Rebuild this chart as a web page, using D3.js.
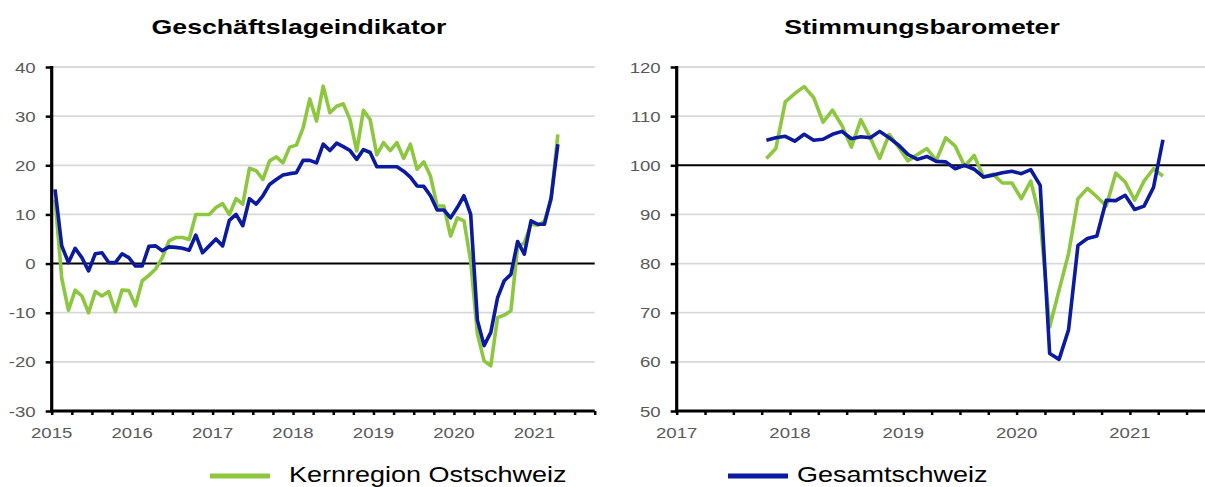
<!DOCTYPE html>
<html><head><meta charset="utf-8">
<script src="https://cdn.jsdelivr.net/npm/d3@7"></script>
<style>
html,body{margin:0;padding:0;background:#fff;}
svg{display:block;font-family:"Liberation Sans",Arial,sans-serif;}
</style></head>
<body>
<svg id="c" width="1205" height="487"></svg>
<script>
// ---- data ----
const leftTitle = "Geschäftslageindikator";
const rightTitle = "Stimmungsbarometer";
const seriesNames = ["Kernregion Ostschweiz", "Gesamtschweiz"];
const leftStart = [2015, 0];   // Jan 2015, monthly
const rightStart = [2017, 9];  // Oct 2017, monthly
const leftOst = [13,-3,-9.5,-5.4,-6.6,-10,-5.7,-6.6,-5.7,-9.8,-5.4,-5.5,
  -8.6,-3.5,-2.4,-1.1,1.2,4.6,5.3,5.3,4.9,10,10,10,
  11.4,12.2,10,13.2,12.1,19.4,18.9,17.1,20.9,21.7,20.5,23.7,
  24.1,27.6,33.5,29,36.1,30.7,32,32.5,29.3,22.9,31.2,29.3,
  22.1,24.6,23,24.6,21.4,24.3,19.2,20.7,17.8,11.7,11.7,5.6,
  9.3,8.7,0.5,-14.3,-19.8,-20.8,-11,-10.5,-9.6,3.4,4.2,8,
  7.8,8.6,13,26.3];
const leftCH = [15.1,3.6,0.2,3.1,1.2,-1.5,2,2.2,0.2,0.2,2,1.2,
  -0.5,-0.5,3.5,3.6,2.6,3.4,3.3,3.1,2.7,5.8,2.2,3.6,
  5,3.6,8.8,10,7.7,13.2,12.1,13.8,16.1,17.1,18,18.3,
  18.5,21,21,20.5,24.3,23,24.5,23.8,23,21.2,23.2,22.6,
  19.7,19.7,19.7,19.7,18.8,17.6,15.8,15.7,13.8,10.9,10.9,9.3,
  11.4,13.8,10,-11.5,-16.7,-14,-7,-3.5,-2.2,4.5,1.9,8.7,
  8,8,13.4,24.3];
const rightOst = [101.4,103.4,112.9,114.6,116,113.8,108.8,111.2,108.1,103.7,109.3,105.6,
  101.4,106.3,103.7,100.9,102.2,103.4,101,105.6,103.9,99.8,102,97.6,
  98.2,96.4,96.4,93.2,96.8,89,67.1,74.6,82,93.2,95.3,93.6,
  91.7,98.4,96.6,92.9,96.8,99.3,97.8];
const rightCH = [105.1,105.6,105.9,104.9,106.3,105.1,105.3,106.3,106.9,105.4,105.8,105.6,
  106.9,105.6,104.1,102.2,101.2,101.8,100.8,100.7,99.3,100,99.2,97.6,
  98,98.5,98.8,98.3,99.1,95.9,61.7,60.5,66.5,83.7,85.1,85.6,
  92.9,92.8,93.9,91,91.7,95.5,105.2];
const leftYTicks = [-30,-20,-10,0,10,20,30,40];
const rightYTicks = [50,60,70,80,90,100,110,120];
const leftYears = [2015,2016,2017,2018,2019,2020,2021];
const rightYears = [2017,2018,2019,2020,2021];

// ---- style ----
const GREEN = "#8DC63F", BLUE = "#0B1A9E", GRID = "#d9d9d9", LABEL = "#595959";
const SX = 1.2; // horizontal text stretch seen in reference

const svg = d3.select("#c");

function txt(g, x, y, s, size, anchor, opts={}) {
  return g.append("text")
    .attr("transform", `translate(${x},${y}) scale(${opts.sx||SX},1)`)
    .attr("text-anchor", anchor)
    .attr("font-size", size)
    .attr("font-weight", opts.bold ? "bold" : "normal")
    .attr("fill", opts.fill || "#000")
    .text(s);
}

function panel(cfg) {
  const g = svg.append("g");
  const x = d3.scaleLinear().domain(cfg.xDomain).range(cfg.xRange);
  const y = d3.scaleLinear().domain(cfg.yDomain).range([411, 67]);
  const x0 = cfg.xRange[0];
  const xEnd = Math.min(cfg.xRange[1], 1205);
  // gridlines
  g.selectAll(".grid").data(cfg.yTicks.filter(v => v !== cfg.yDomain[0] && v !== cfg.ref))
    .join("line").attr("x1", x0).attr("x2", xEnd)
    .attr("y1", d => y(d)).attr("y2", d => y(d))
    .attr("stroke", GRID).attr("stroke-width", 1.8);
  // reference line
  g.append("line").attr("x1", x0).attr("x2", xEnd)
    .attr("y1", y(cfg.ref)).attr("y2", y(cfg.ref))
    .attr("stroke", "#000").attr("stroke-width", 2);
  // series
  const toPts = (arr, start) => arr.map((v, i) => [start[0] + (start[1] + i + 0.5) / 12, v]);
  const line = d3.line().x(d => x(d[0])).y(d => y(d[1]));
  g.append("path").datum(toPts(cfg.ost, cfg.start)).attr("d", line)
    .attr("fill", "none").attr("stroke", GREEN).attr("stroke-width", 3.6).attr("stroke-linejoin", "round");
  g.append("path").datum(toPts(cfg.ch, cfg.start)).attr("d", line)
    .attr("fill", "none").attr("stroke", BLUE).attr("stroke-width", 3.6).attr("stroke-linejoin", "round");
  // x axis
  const xAxis = d3.axisBottom(x)
    .tickValues(d3.range(cfg.xDomain[0], cfg.xDomain[1] + 0.001, 0.25))
    .tickSize(4).tickFormat("");
  const ax = g.append("g").attr("transform", `translate(0,${y(cfg.yDomain[0])})`).call(xAxis);
  ax.select(".domain").remove();
  ax.selectAll(".tick line").attr("stroke", "#000").attr("stroke-width", 2.5);
  g.append("line").attr("x1", x0 - 1.5).attr("x2", xEnd)
    .attr("y1", y(cfg.yDomain[0])).attr("y2", y(cfg.yDomain[0]))
    .attr("stroke", "#000").attr("stroke-width", 3);
  cfg.years.forEach(yr => txt(g, x(yr), 438, String(yr), 15.5, "middle", {fill: LABEL}));
  // y axis
  const yAxis = d3.axisLeft(y).tickValues(cfg.yTicks).tickSize(6).tickFormat("");
  const ay = g.append("g").attr("transform", `translate(${x0},0)`).call(yAxis);
  ay.select(".domain").remove();
  ay.selectAll(".tick line").attr("stroke", "#000").attr("stroke-width", 2.5);
  g.append("line").attr("x1", x0).attr("x2", x0).attr("y1", y(cfg.yDomain[1]) - 1)
    .attr("y2", y(cfg.yDomain[0]) + 1.5).attr("stroke", "#000").attr("stroke-width", 3.2);
  cfg.yTicks.forEach(v => txt(g, x0 - 16, y(v) + 5.5, String(v), 15.5, "end", {fill: LABEL}));
  // title
  txt(g, cfg.titleX, 34, cfg.title, 21, "middle", {bold: true, fill: "#000", sx: 1.27});
}

panel({title: leftTitle, titleX: 299, xDomain: [2015, 2021.75], xRange: [51.7, 594.7],
  yDomain: [-30, 40], yTicks: leftYTicks, ref: 0, years: leftYears,
  start: leftStart, ost: leftOst, ch: leftCH});
panel({title: rightTitle, titleX: 922, xDomain: [2017, 2021.75], xRange: [676.7, 676.7 + 4.75 * 113.3],
  yDomain: [50, 120], yTicks: rightYTicks, ref: 100, years: rightYears,
  start: rightStart, ost: rightOst, ch: rightCH});

// legend
const lg = svg.append("g");
[[210, GREEN, 289, seriesNames[0]], [728, BLUE, 797, seriesNames[1]]].forEach(([lx, col, tx, name]) => {
  lg.append("line").attr("x1", lx).attr("x2", lx + 60).attr("y1", 476).attr("y2", 476)
    .attr("stroke", col).attr("stroke-width", 5);
  txt(lg, tx, 482, name, 22.5, "start", {fill: "#000"});
});
</script>
</body></html>
